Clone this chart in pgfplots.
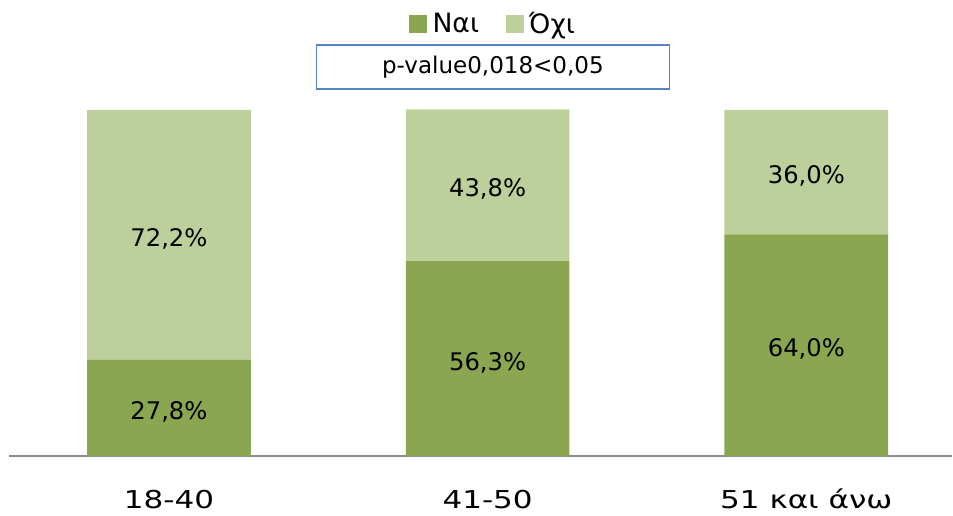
\documentclass[border=0pt]{standalone}
\usepackage{pgfplots}
\pgfplotsset{compat=1.18}
\usepackage{fontspec}
\setmainfont{DejaVu Sans}

\definecolor{nai}{HTML}{8AA650}
\definecolor{oxi}{HTML}{BDD09B}
\definecolor{axisgray}{HTML}{8C8C8C}
\definecolor{boxblue}{HTML}{5585C5}

\begin{document}
\begin{tikzpicture}[x=1pt,y=1pt]
\begin{axis}[
  scale only axis,
  width=708.75pt, height=260.5pt,
  ybar stacked,
  bar width=123pt,
  xmin=-0.502, xmax=2.458,
  ymin=0, ymax=100.1,
  clip=false,
  axis y line=none,
  axis x line*=bottom,
  x axis line style={axisgray, line width=1.1pt},
  xtick={0,1,2},
  xticklabels={18-40, 41-50, 51 και άνω},
  major tick length=0pt,
  xticklabel style={font=\fontsize{18.5}{22}\selectfont, xscale=1.26,
    anchor=base, inner sep=0pt, yshift=-39.3pt},
  point meta=explicit symbolic,
  nodes near coords,
  every node near coord/.append style={
    font=\fontsize{18.2}{22}\selectfont, text=black,
    anchor=center, yshift=-3pt},
  legend columns=2,
  legend style={draw=none, fill=none,
    at={(rel axis cs:0.515,1.2466)}, anchor=center,
    font=\fontsize{20}{24}\selectfont,
    /tikz/every even column/.append style={column sep=16pt},
    inner sep=0pt, nodes={inner xsep=4pt, inner ysep=0pt}},
  legend cell align=left,
]
\addplot+[fill=nai, draw=none,
  legend image code/.code={\fill[nai] (0pt,-6.75pt) rectangle (13.5pt,6.75pt);}]
  coordinates {(0,27.8) [27,8\%] (1,56.3) [56,3\%] (2,64.0) [64,0\%]};
\addplot+[fill=oxi, draw=none,
  legend image code/.code={\fill[oxi] (0pt,-6.75pt) rectangle (13.5pt,6.75pt);}]
  coordinates {(0,72.2) [72,2\%] (1,43.8) [43,8\%] (2,36.0) [36,0\%]};
\legend{Ναι, Όχι}

\node[draw=boxblue, line width=1.1pt, minimum width=265pt, minimum height=33pt,
  font=\fontsize{17.3}{20}\selectfont, inner sep=0pt]
  at (rel axis cs:0.513,1.1228) {p-value0,018<0,05};

\coordinate (bbA) at (rel axis cs:-0.00952,1.3157);
\coordinate (bbB) at (rel axis cs:1,-0.1699);
\end{axis}
\path (bbA) rectangle (bbB);
\end{tikzpicture}
\end{document}
